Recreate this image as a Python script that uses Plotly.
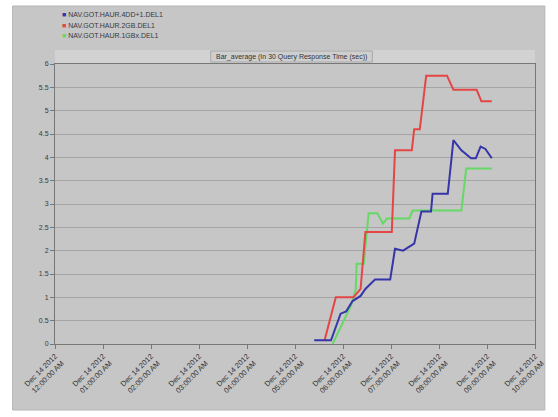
import plotly.graph_objects as go

# Hourly axis ticks
tick_times = [f"2012-12-14 {h:02d}:00" for h in range(11)]
tick_labels = [
    "Dec 14 2012<br>12:00:00 AM", "Dec 14 2012<br>01:00:00 AM", "Dec 14 2012<br>02:00:00 AM",
    "Dec 14 2012<br>03:00:00 AM", "Dec 14 2012<br>04:00:00 AM", "Dec 14 2012<br>05:00:00 AM",
    "Dec 14 2012<br>06:00:00 AM", "Dec 14 2012<br>07:00:00 AM", "Dec 14 2012<br>08:00:00 AM",
    "Dec 14 2012<br>09:00:00 AM", "Dec 14 2012<br>10:00:00 AM",
]
y_ticks = [0, 0.5, 1, 1.5, 2, 2.5, 3, 3.5, 4, 4.5, 5, 5.5, 6]

series_names = ["NAV.GOT.HAUR.4DD+1.DEL1", "NAV.GOT.HAUR.2GB.DEL1", "NAV.GOT.HAUR.1GBx.DEL1"]
series_colors = ["#3535a8", "#e64545", "#66d866"]

# Blue series
blue_t = ["2012-12-14 05:24", "2012-12-14 05:45", "2012-12-14 05:57", "2012-12-14 06:04",
          "2012-12-14 06:12", "2012-12-14 06:22", "2012-12-14 06:28", "2012-12-14 06:40",
          "2012-12-14 06:59", "2012-12-14 07:05", "2012-12-14 07:15", "2012-12-14 07:23",
          "2012-12-14 07:29", "2012-12-14 07:38", "2012-12-14 07:50", "2012-12-14 07:52",
          "2012-12-14 08:11", "2012-12-14 08:18", "2012-12-14 08:28", "2012-12-14 08:40",
          "2012-12-14 08:46", "2012-12-14 08:52", "2012-12-14 08:58", "2012-12-14 09:06"]
blue_v = [0.08, 0.08, 0.65, 0.70, 0.92, 1.03, 1.18, 1.38, 1.38, 2.04, 2.00, 2.08,
          2.15, 2.84, 2.84, 3.22, 3.22, 4.37, 4.15, 3.98, 3.98, 4.23, 4.18, 3.98]

# Red series
red_t = ["2012-12-14 05:37", "2012-12-14 05:51", "2012-12-14 06:13", "2012-12-14 06:22",
         "2012-12-14 06:28", "2012-12-14 07:01", "2012-12-14 07:05", "2012-12-14 07:26",
         "2012-12-14 07:29", "2012-12-14 07:36", "2012-12-14 07:44", "2012-12-14 08:10",
         "2012-12-14 08:18", "2012-12-14 08:47", "2012-12-14 08:53", "2012-12-14 09:06"]
red_v = [0.08, 1.0, 1.0, 1.18, 2.4, 2.4, 4.15, 4.15, 4.6, 4.6, 5.75, 5.75,
         5.45, 5.45, 5.2, 5.2]

# Green series
green_t = ["2012-12-14 05:47", "2012-12-14 06:10", "2012-12-14 06:16", "2012-12-14 06:17",
           "2012-12-14 06:26", "2012-12-14 06:32", "2012-12-14 06:43", "2012-12-14 06:50",
           "2012-12-14 06:55", "2012-12-14 07:23", "2012-12-14 07:27", "2012-12-14 08:28",
           "2012-12-14 08:34", "2012-12-14 09:06"]
green_v = [0.0, 0.82, 1.18, 1.72, 1.72, 2.8, 2.8, 2.58, 2.69, 2.69, 2.86, 2.86, 3.76, 3.76]

title_text = "Bar_average (In 30 Query Response Time (sec))"

fig = go.Figure()
# green drawn first so red and blue sit on top of it
for t, v, name, col in [(green_t, green_v, series_names[2], series_colors[2]),
                        (red_t, red_v, series_names[1], series_colors[1]),
                        (blue_t, blue_v, series_names[0], series_colors[0])]:
    fig.add_trace(go.Scatter(x=t, y=v, mode="lines", name=name,
                             line=dict(color=col, width=2), showlegend=False))

W, H = 558, 417
L, R, T, B = 55, 16, 64, 73
pw, ph = W - L - R, H - T - B

def px(x):
    return (x - L) / pw

def py(y):
    return (H - B - y) / ph

shapes = [
    # grey outer frame
    dict(type="rect", xref="paper", yref="paper", x0=px(12), x1=px(552), y0=py(410), y1=py(6),
         fillcolor="#c6c6c6", line=dict(color="#b4b4b4", width=1), layer="below"),
    # title strip
    dict(type="rect", xref="paper", yref="paper", x0=0, x1=1, y0=py(63), y1=py(50),
         fillcolor="#d2d2d2", line=dict(width=0), layer="below"),
    dict(type="rect", xref="paper", yref="paper", x0=px(213), x1=px(377), y0=py(62), y1=py(51),
         fillcolor="#cfcfcf", line=dict(color="#a8a8a8", width=1), layer="below"),
]

annotations = [
    dict(text=title_text, xref="paper", yref="paper", x=px(295), y=py(57),
         showarrow=False, font=dict(size=7, color="#333333", family="Liberation Sans"),
         xanchor="center", yanchor="middle"),
]
for i, (name, col) in enumerate(zip(series_names, series_colors)):
    annotations.append(dict(
        text=f'<span style="color:{col}">■</span> {name}',
        xref="paper", yref="paper", x=px(60), y=py(15 + 10.5 * i),
        showarrow=False, xanchor="left", yanchor="middle",
        font=dict(size=7, color="#3a3a3a", family="Liberation Sans")))

fig.update_layout(
    width=W, height=H,
    margin=dict(l=L, r=R, t=T, b=B, pad=0),
    paper_bgcolor="white",
    plot_bgcolor="#efefef",
    shapes=shapes,
    annotations=annotations,
    showlegend=False,
    xaxis=dict(
        range=[tick_times[0], tick_times[-1]],
        tickvals=tick_times, ticktext=tick_labels, tickangle=-45,
        tickfont=dict(size=7.5, color="#333333", family="Liberation Sans"),
        showgrid=False, zeroline=False,
        ticks="outside", ticklen=4, tickcolor="#777777",
        showline=True, linecolor="#777777", linewidth=1, mirror=True,
    ),
    yaxis=dict(
        range=[0, 6],
        tickvals=y_ticks, ticktext=[f"{v:g}" for v in y_ticks],
        tickfont=dict(size=7, color="#3a3a3a", family="Liberation Sans"),
        showgrid=True, gridcolor="#a4a4a4", gridwidth=1, zeroline=False,
        ticks="outside", ticklen=4, tickcolor="#777777",
        showline=True, linecolor="#777777", linewidth=1, mirror=True,
    ),
)

fig.write_html("out.html")
